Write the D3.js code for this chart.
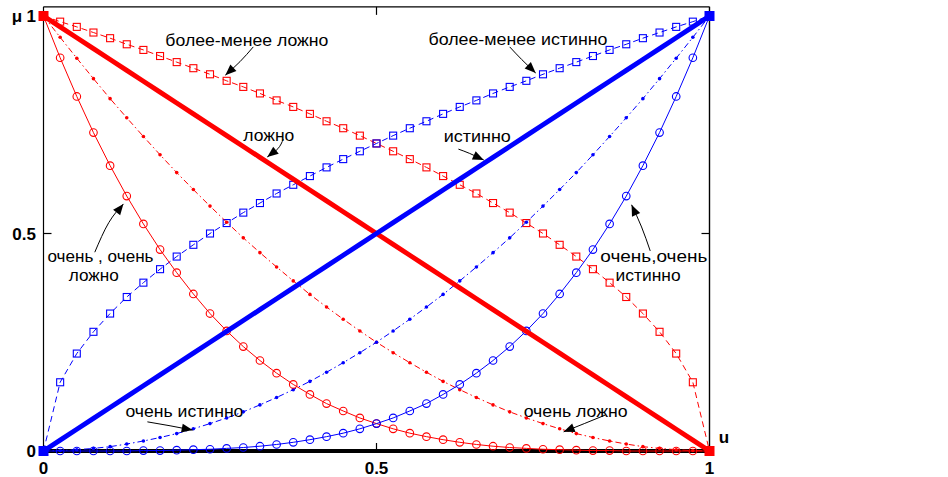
<!DOCTYPE html>
<html>
<head>
<meta charset="utf-8">
<script src="https://cdn.jsdelivr.net/npm/d3@7"></script>
<style>
  html, body { margin: 0; padding: 0; background: #fff; }
  svg { display: block; }
  .tick-label { font-family: "Liberation Sans", Arial, sans-serif; font-weight: bold; font-size: 17px; fill: #000; }
  .note { font-family: "Liberation Sans", Arial, sans-serif; font-size: 16px; fill: #000; }
</style>
</head>
<body>
<svg id="chart" width="948" height="477"></svg>
<script>
// Universe of discourse u ∈ [0, 1], sampled every 0.025
const uGrid = [0, 0.025, 0.05, 0.075, 0.1, 0.125, 0.15, 0.175, 0.2, 0.225, 0.25, 0.275, 0.3, 0.325, 0.35, 0.375, 0.4, 0.425, 0.45, 0.475, 0.5, 0.525, 0.55, 0.575, 0.6, 0.625, 0.65, 0.675, 0.7, 0.725, 0.75, 0.775, 0.8, 0.825, 0.85, 0.875, 0.9, 0.925, 0.95, 0.975, 1];

// Membership values μ(u) of the linguistic truth values
const trueValues = [0, 0.025, 0.05, 0.075, 0.1, 0.125, 0.15, 0.175, 0.2, 0.225, 0.25, 0.275, 0.3, 0.325, 0.35, 0.375, 0.4, 0.425, 0.45, 0.475, 0.5, 0.525, 0.55, 0.575, 0.6, 0.625, 0.65, 0.675, 0.7, 0.725, 0.75, 0.775, 0.8, 0.825, 0.85, 0.875, 0.9, 0.925, 0.95, 0.975, 1];
const falseValues = [1, 0.975, 0.95, 0.925, 0.9, 0.875, 0.85, 0.825, 0.8, 0.775, 0.75, 0.725, 0.7, 0.675, 0.65, 0.625, 0.6, 0.575, 0.55, 0.525, 0.5, 0.475, 0.45, 0.425, 0.4, 0.375, 0.35, 0.325, 0.3, 0.275, 0.25, 0.225, 0.2, 0.175, 0.15, 0.125, 0.1, 0.075, 0.05, 0.025, 0];
const ratherTrue = [0, 0.158, 0.224, 0.274, 0.316, 0.354, 0.387, 0.418, 0.447, 0.474, 0.5, 0.524, 0.548, 0.570, 0.592, 0.612, 0.632, 0.652, 0.671, 0.689, 0.707, 0.725, 0.742, 0.758, 0.775, 0.791, 0.806, 0.822, 0.837, 0.851, 0.866, 0.880, 0.894, 0.908, 0.922, 0.935, 0.949, 0.962, 0.975, 0.987, 1];
const ratherFalse = [1, 0.987, 0.975, 0.962, 0.949, 0.935, 0.922, 0.908, 0.894, 0.880, 0.866, 0.851, 0.837, 0.822, 0.806, 0.791, 0.775, 0.758, 0.742, 0.725, 0.707, 0.689, 0.671, 0.652, 0.632, 0.612, 0.592, 0.570, 0.548, 0.524, 0.5, 0.474, 0.447, 0.418, 0.387, 0.354, 0.316, 0.274, 0.224, 0.158, 0];
const veryTrue = [0, 0.001, 0.003, 0.006, 0.010, 0.016, 0.023, 0.031, 0.040, 0.051, 0.063, 0.076, 0.090, 0.106, 0.123, 0.141, 0.160, 0.181, 0.203, 0.226, 0.250, 0.276, 0.303, 0.331, 0.360, 0.391, 0.423, 0.456, 0.490, 0.526, 0.563, 0.601, 0.640, 0.681, 0.723, 0.766, 0.810, 0.856, 0.903, 0.951, 1];
const veryFalse = [1, 0.951, 0.903, 0.856, 0.810, 0.766, 0.723, 0.681, 0.640, 0.601, 0.563, 0.526, 0.490, 0.456, 0.423, 0.391, 0.360, 0.331, 0.303, 0.276, 0.250, 0.226, 0.203, 0.181, 0.160, 0.141, 0.123, 0.106, 0.090, 0.076, 0.063, 0.051, 0.040, 0.031, 0.023, 0.016, 0.010, 0.006, 0.003, 0.001, 0];
const veryVeryTrue = [0, 0, 0, 0, 0, 0, 0.001, 0.001, 0.002, 0.003, 0.004, 0.006, 0.008, 0.011, 0.015, 0.020, 0.026, 0.033, 0.041, 0.051, 0.063, 0.076, 0.092, 0.109, 0.130, 0.153, 0.179, 0.208, 0.240, 0.276, 0.316, 0.361, 0.410, 0.463, 0.522, 0.586, 0.656, 0.732, 0.815, 0.904, 1];
const veryVeryFalse = [1, 0.904, 0.815, 0.732, 0.656, 0.586, 0.522, 0.463, 0.410, 0.361, 0.316, 0.276, 0.240, 0.208, 0.179, 0.153, 0.130, 0.109, 0.092, 0.076, 0.063, 0.051, 0.041, 0.033, 0.026, 0.020, 0.015, 0.011, 0.008, 0.006, 0.004, 0.003, 0.002, 0.001, 0.001, 0, 0, 0, 0, 0, 0];

// Axis tick labels
const xTicks = [0, 0.5, 1];
const xTickLabels = ["0", "0.5", "1"];
const yTicks = [0, 0.5, 1];
const yTickLabels = ["0", "0.5", "1"];
const xAxisTitle = "u";
const yAxisTitle = "μ";

// Annotation captions with their arrows, placed in (u, μ) units
const noteTexts = [
  ["более-менее ложно"], ["более-менее истинно"], ["ложно"], ["истинно"],
  ["очень , очень", "ложно"], ["очень,очень", "истинно"],
  ["очень истинно"], ["очень ложно"]
];

// ---------------------------------------------------------------
const RED = "#ff0000", BLUE = "#0000ff";

const x = d3.scaleLinear().domain([0, 1]).range([43.5, 709.5]);
const y = d3.scaleLinear().domain([0, 1]).range([451, 16]);
const yTop = 1.021;

const svg = d3.select("#chart");
svg.append("rect").attr("width", 948).attr("height", 477).attr("fill", "#fff");

const toPts = vals => uGrid.map((u, i) => [u, vals[i]]);
const line = d3.line().x(d => x(d[0])).y(d => y(d[1]));

// Frame: thin box with a heavy baseline at μ = 0
const frame = svg.append("g");
frame.append("line").attr("x1", x(0)).attr("x2", x(1)).attr("y1", y(yTop)).attr("y2", y(yTop))
  .attr("stroke", "#000").attr("stroke-width", 1.2);
frame.append("line").attr("x1", x(0)).attr("x2", x(0)).attr("y1", y(yTop)).attr("y2", y(0))
  .attr("stroke", "#000").attr("stroke-width", 1.2);
frame.append("line").attr("x1", x(1)).attr("x2", x(1)).attr("y1", y(yTop)).attr("y2", y(0))
  .attr("stroke", "#000").attr("stroke-width", 1.4);
frame.append("line").attr("x1", x(0)).attr("x2", x(1)).attr("y1", y(0)).attr("y2", y(0))
  .attr("stroke", "#000").attr("stroke-width", 4);

// Inward ticks on all four sides (interior ticks only; corners are covered by the frame)
const tickLen = 8;
xTicks.filter(t => t > 0 && t < 1).forEach(t => {
  frame.append("line").attr("x1", x(t)).attr("x2", x(t)).attr("y1", y(0)).attr("y2", y(0) - tickLen)
    .attr("stroke", "#000").attr("stroke-width", 1.2);
  frame.append("line").attr("x1", x(t)).attr("x2", x(t)).attr("y1", y(yTop)).attr("y2", y(yTop) + tickLen)
    .attr("stroke", "#000").attr("stroke-width", 1.2);
});
yTicks.filter(t => t > 0 && t < 1).forEach(t => {
  frame.append("line").attr("x1", x(0)).attr("x2", x(0) + tickLen).attr("y1", y(t)).attr("y2", y(t))
    .attr("stroke", "#000").attr("stroke-width", 1.2);
  frame.append("line").attr("x1", x(1)).attr("x2", x(1) - tickLen).attr("y1", y(t)).attr("y2", y(t))
    .attr("stroke", "#000").attr("stroke-width", 1.2);
});

// Tick labels
xTicks.forEach((t, i) => {
  svg.append("text").attr("class", "tick-label").attr("x", x(t)).attr("y", 474)
    .attr("text-anchor", "middle").text(xTickLabels[i]);
});
yTicks.forEach((t, i) => {
  svg.append("text").attr("class", "tick-label").attr("x", 36).attr("y", y(t) + 6)
    .attr("text-anchor", "end").text(yTickLabels[i]);
});
svg.append("text").attr("class", "tick-label").attr("x", 17).attr("y", y(1) + 6)
  .attr("text-anchor", "middle").text(yAxisTitle);
svg.append("text").attr("class", "tick-label").attr("x", 724).attr("y", 443)
  .attr("text-anchor", "middle").text(xAxisTitle);

// Curve definitions
const series = [
  { vals: ratherFalse, color: RED, width: 1, dash: "6,4", marker: "square" },
  { vals: ratherTrue, color: BLUE, width: 1, dash: "6,4", marker: "square" },
  { vals: veryFalse, color: RED, width: 1, dash: "6,3,1.5,3", marker: "dot" },
  { vals: veryTrue, color: BLUE, width: 1, dash: "6,3,1.5,3", marker: "dot" },
  { vals: veryVeryFalse, color: RED, width: 1, dash: null, marker: "circle" },
  { vals: veryVeryTrue, color: BLUE, width: 1, dash: null, marker: "circle" },
  { vals: falseValues, color: RED, width: 4.8, dash: null, marker: null },
  { vals: trueValues, color: BLUE, width: 4.8, dash: null, marker: null }
];

const plot = svg.append("g");
series.forEach(s => {
  const pts = toPts(s.vals);
  plot.append("path").datum(pts).attr("d", line)
    .attr("fill", "none").attr("stroke", s.color).attr("stroke-width", s.width)
    .attr("stroke-dasharray", s.dash);
  const inner = pts.slice(1, -1);
  if (s.marker === "square") {
    plot.selectAll(null).data(inner).enter().append("rect")
      .attr("x", d => x(d[0]) - 3.5).attr("y", d => y(d[1]) - 3.5)
      .attr("width", 7).attr("height", 7)
      .attr("fill", "none").attr("stroke", s.color).attr("stroke-width", 1.1);
  } else if (s.marker === "dot") {
    plot.selectAll(null).data(inner).enter().append("circle")
      .attr("cx", d => x(d[0])).attr("cy", d => y(d[1])).attr("r", 1.8)
      .attr("fill", s.color);
  } else if (s.marker === "circle") {
    plot.selectAll(null).data(inner).enter().append("circle")
      .attr("cx", d => x(d[0])).attr("cy", d => y(d[1])).attr("r", 3.8)
      .attr("fill", "none").attr("stroke", s.color).attr("stroke-width", 1.1);
  }
});

// Filled end markers on the heavy lines
[[trueValues, BLUE], [falseValues, RED]].forEach(([vals, c]) => {
  [0, uGrid.length - 1].forEach(i => {
    plot.append("rect")
      .attr("x", x(uGrid[i]) - 5).attr("y", y(vals[i]) - 5)
      .attr("width", 10).attr("height", 10).attr("fill", c);
  });
});

// Annotations: caption lines (left edge, baseline, width) and arrow path ending at the tip
const noteLayout = [
  { lines: [[0.183, 0.930, 163]], arrow: [[0.315, 0.929], [0.295, 0.895], [0.273, 0.864]] },
  { lines: [[0.578, 0.934, 179]], arrow: [[0.700, 0.929], [0.718, 0.900], [0.739, 0.869]] },
  { lines: [[0.300, 0.713, 51]], arrow: [[0.360, 0.717], [0.352, 0.695], [0.336, 0.676]] },
  { lines: [[0.601, 0.711, 67]], arrow: [[0.623, 0.694], [0.640, 0.684], [0.661, 0.669]] },
  { lines: [[0.006, 0.434, 106], [0.038, 0.391, 50]], arrow: [[0.077, 0.457], [0.098, 0.525], [0.120, 0.568]] },
  { lines: [[0.836, 0.434, 107], [0.859, 0.391, 65]], arrow: [[0.911, 0.460], [0.898, 0.515], [0.883, 0.566]] },
  { lines: [[0.123, 0.078, 118]], arrow: [[0.156, 0.067], [0.190, 0.058], [0.224, 0.048]] },
  { lines: [[0.721, 0.078, 104]], arrow: [[0.844, 0.083], [0.812, 0.063], [0.781, 0.044]] }
];

const notes = svg.append("g");
const arrowLine = d3.line().x(d => x(d[0])).y(d => y(d[1])).curve(d3.curveNatural);
noteLayout.forEach((n, k) => {
  n.lines.forEach((ln, j) => {
    notes.append("text").attr("class", "note")
      .attr("x", x(ln[0])).attr("y", y(ln[1]))
      .attr("textLength", ln[2]).attr("lengthAdjust", "spacingAndGlyphs")
      .text(noteTexts[k][j]);
  });
  const a = n.arrow;
  const tip = [x(a[a.length - 1][0]), y(a[a.length - 1][1])];
  const prev = [x(a[a.length - 2][0]), y(a[a.length - 2][1])];
  const ang = Math.atan2(tip[1] - prev[1], tip[0] - prev[0]);
  const L = 11, W = 4.5;
  const base = [tip[0] - L * Math.cos(ang), tip[1] - L * Math.sin(ang)];
  notes.append("path").datum(a).attr("d", arrowLine)
    .attr("fill", "none").attr("stroke", "#000").attr("stroke-width", 1);
  notes.append("path")
    .attr("d", `M${tip[0]},${tip[1]} L${base[0] + W * Math.sin(ang)},${base[1] - W * Math.cos(ang)} L${base[0] - W * Math.sin(ang)},${base[1] + W * Math.cos(ang)} Z`)
    .attr("fill", "#000");
});
</script>
</body>
</html>
